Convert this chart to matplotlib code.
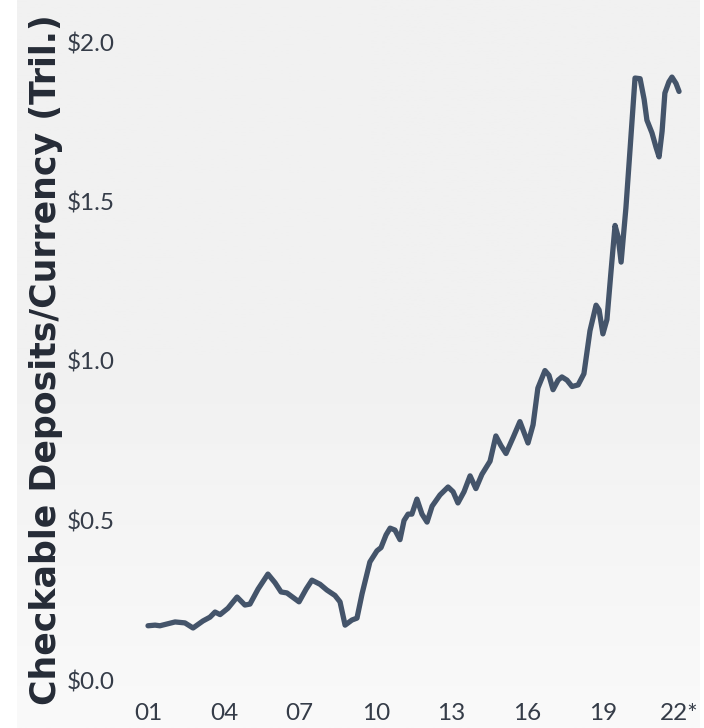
import numpy as np
import matplotlib
matplotlib.use("Agg")
import matplotlib.pyplot as plt
from matplotlib.colors import LinearSegmentedColormap

years = [2001.00, 2001.28, 2001.47, 2002.07, 2002.46, 2002.78, 2003.17, 2003.45, 2003.65, 2003.85,
         2004.16, 2004.52, 2004.83, 2005.03, 2005.35, 2005.74, 2006.02, 2006.26, 2006.49, 2006.97,
         2007.25, 2007.48, 2007.80, 2008.07, 2008.39, 2008.59, 2008.79, 2009.06, 2009.26, 2009.46,
         2009.77, 2010.05, 2010.21, 2010.41, 2010.57, 2010.76, 2010.96, 2011.12, 2011.28, 2011.43,
         2011.63, 2011.83, 2012.03, 2012.23, 2012.54, 2012.86, 2013.06, 2013.25, 2013.49, 2013.73,
         2013.96, 2014.20, 2014.52, 2014.75, 2014.95, 2015.15, 2015.43, 2015.70, 2016.02, 2016.22,
         2016.41, 2016.69, 2016.85, 2017.01, 2017.21, 2017.36, 2017.56, 2017.76, 2018.00, 2018.23,
         2018.47, 2018.71, 2018.83, 2018.98, 2019.14, 2019.30, 2019.46, 2019.58, 2019.70, 2019.89,
         2020.05, 2020.25, 2020.45, 2020.61, 2020.72, 2020.92, 2021.08, 2021.20, 2021.32, 2021.43,
         2021.59, 2021.71, 2021.87, 2021.99]
values = [0.170, 0.172, 0.170, 0.182, 0.179, 0.163, 0.185, 0.197, 0.213, 0.205,
          0.225, 0.260, 0.235, 0.238, 0.285, 0.332, 0.305, 0.276, 0.273, 0.245,
          0.285, 0.313, 0.300, 0.282, 0.265, 0.245, 0.172, 0.188, 0.194, 0.270,
          0.370, 0.405, 0.415, 0.455, 0.476, 0.470, 0.440, 0.500, 0.520, 0.520,
          0.567, 0.520, 0.495, 0.545, 0.580, 0.605, 0.590, 0.555, 0.590, 0.640,
          0.600, 0.645, 0.686, 0.765, 0.735, 0.710, 0.760, 0.810, 0.743, 0.800,
          0.915, 0.970, 0.955, 0.910, 0.940, 0.950, 0.940, 0.920, 0.925, 0.960,
          1.095, 1.175, 1.160, 1.085, 1.130, 1.280, 1.425, 1.390, 1.310, 1.480,
          1.660, 1.887, 1.885, 1.820, 1.755, 1.715, 1.670, 1.640, 1.720, 1.840,
          1.875, 1.890, 1.870, 1.845]

xtick_pos = [2001, 2004, 2007, 2010, 2013, 2016, 2019, 2022]
xtick_labels = ["01", "04", "07", "10", "13", "16", "19", "22*"]
ytick_pos = [0.0, 0.5, 1.0, 1.5, 2.0]
ytick_labels = ["$0.0", "$0.5", "$1.0", "$1.5", "$2.0"]

W, H = 704, 728
fig = plt.figure(figsize=(W / 100, H / 100), dpi=100)
fig.patch.set_facecolor("white")

# gradient background
bg = fig.add_axes([17 / W, 0, 683 / W, 1])
grad = np.linspace(0, 1, 256).reshape(-1, 1)
cmap = LinearSegmentedColormap.from_list("bg", ["#f1f1f1", "#f1f1f1", "#fafafa"])
bg.imshow(grad, aspect="auto", cmap=cmap, origin="upper", extent=[0, 1, 0, 1])
bg.set_axis_off()
bg.set_zorder(0)

left, right, top, bottom = 140, 690, 30, 690
ax = fig.add_axes([left / W, 1 - bottom / H, (right - left) / W, (bottom - top) / H])
ax.set_zorder(1)
ax.patch.set_alpha(0)

ax.plot(years, values, color="#44546a", lw=3.8, solid_capstyle="round", solid_joinstyle="round")

ppy = 25.3
ax.set_xlim(2001 + (left - 148) / ppy, 2001 + (right - 148) / ppy)
ppv = 319.0
ax.set_ylim((680 - bottom) / ppv, (680 - top) / ppv)

for s in ax.spines.values():
    s.set_visible(False)

fam = ["Lato", "DejaVu Sans"]
ax.set_xticks(xtick_pos)
ax.set_xticklabels(xtick_labels, fontsize=17.5, color="#353c48", family=fam)
ax.set_yticks(ytick_pos)
ax.set_yticklabels(ytick_labels, fontsize=17.5, color="#353c48", family=fam)
ax.tick_params(axis="both", length=0)
ax.tick_params(axis="x", pad=9)
ax.tick_params(axis="y", pad=18)

fig.text(46 / W, 1 - 360 / H, "Checkable Deposits/Currency (Tril.)", rotation=90,
         ha="center", va="center", fontsize=25, fontweight="bold", color="#252b36",
         family=["DejaVu Sans"])

fig.savefig("out.png", dpi=100, facecolor="white")
